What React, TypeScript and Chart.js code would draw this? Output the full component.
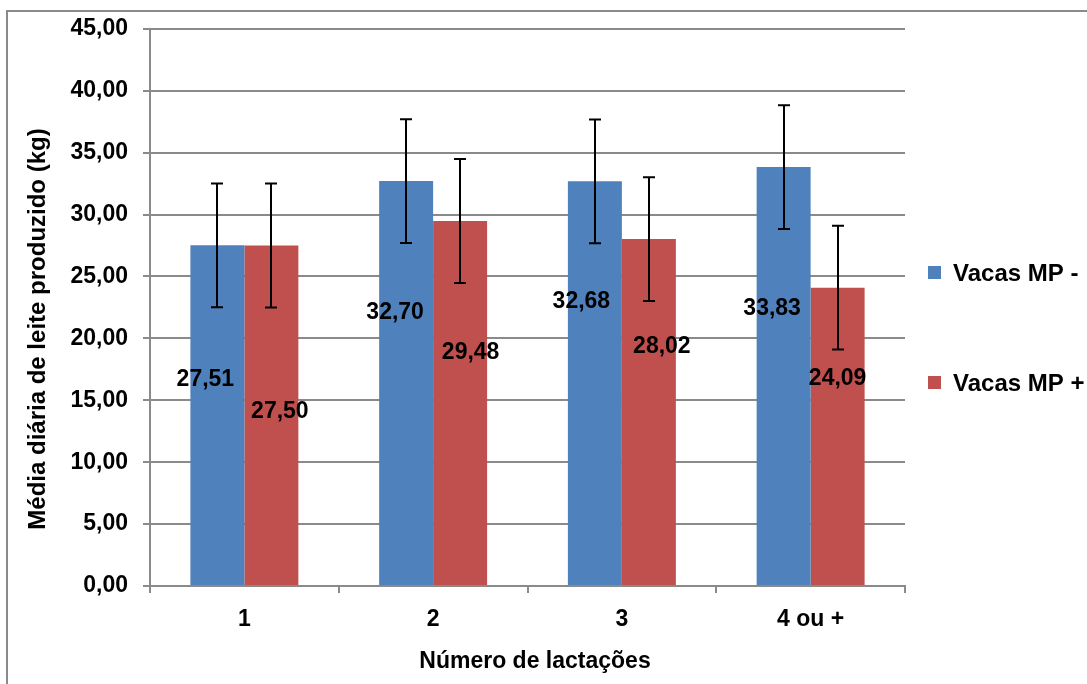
import React, { useEffect, useRef } from "react";
import { Chart, registerables } from "chart.js";

Chart.register(...registerables);

// ---- data ----
const categories: string[] = ["1", "2", "3", "4 ou +"];
const seriesNames: string[] = ["Vacas MP -", "Vacas MP +"];
const mpMinus: number[] = [27.51, 32.7, 32.68, 33.83];
const mpPlus: number[] = [27.5, 29.48, 28.02, 24.09];
const mpMinusError: number[] = [5, 5, 5, 5];
const mpPlusError: number[] = [5, 5, 5, 5];
const yTicksMin = 0;
const yTicksMax = 45;
const yTicksStep = 5;
const yTitle = "Média diária de leite produzido (kg)";
const xTitle = "Número de lactações";

// ---- layout of the (hand-placed) data labels: anchor in value units, x shift in px ----
const labelAnchorMinus: number[] = [16.82, 22.22, 23.1, 22.5];
const labelAnchorPlus: number[] = [14.21, 18.96, 19.48, 16.9];
const labelShiftMinus: number[] = [-12, -11, -13.5, -11.5];
const labelShiftPlus: number[] = [8.5, 10.5, 13, 0];

const FONT = '"Liberation Sans", Arial, sans-serif';
const GRID = "#8a8a8a";
const BLUE = "#4F81BD";
const RED = "#C0504D";

const fmt = (v: number) => v.toFixed(2).replace(".", ",");

const overlayPlugin = {
  id: "overlay",
  beforeDraw(chart: any) {
    const ctx = chart.ctx;
    ctx.save();
    ctx.strokeStyle = GRID;
    ctx.lineWidth = 2;
    ctx.beginPath();
    ctx.moveTo(7, 700);
    ctx.lineTo(7, 11);
    ctx.lineTo(1100, 11);
    ctx.stroke();
    ctx.restore();
  },
  afterDatasetsDraw(chart: any) {
    const ctx = chart.ctx;
    const y = chart.scales.y;
    const errs = [mpMinusError, mpPlusError];
    const anchors = [labelAnchorMinus, labelAnchorPlus];
    const shifts = [labelShiftMinus, labelShiftPlus];
    ctx.save();
    // error bars
    ctx.strokeStyle = "#000";
    ctx.lineWidth = 2;
    chart.data.datasets.forEach((ds: any, di: number) => {
      const meta = chart.getDatasetMeta(di);
      meta.data.forEach((el: any, i: number) => {
        const v = ds.data[i];
        const e = errs[di][i];
        const x = Math.round(el.x);
        const yt = y.getPixelForValue(v + e);
        const yb = y.getPixelForValue(v - e);
        ctx.beginPath();
        ctx.moveTo(x, yt);
        ctx.lineTo(x, yb);
        ctx.moveTo(x - 6, yt);
        ctx.lineTo(x + 6, yt);
        ctx.moveTo(x - 6, yb);
        ctx.lineTo(x + 6, yb);
        ctx.stroke();
      });
    });
    // data labels
    ctx.fillStyle = "#000";
    ctx.font = `bold 23px ${FONT}`;
    ctx.textAlign = "center";
    ctx.textBaseline = "alphabetic";
    chart.data.datasets.forEach((ds: any, di: number) => {
      const meta = chart.getDatasetMeta(di);
      meta.data.forEach((el: any, i: number) => {
        const cx = el.x + shifts[di][i];
        const cy = y.getPixelForValue(anchors[di][i]);
        ctx.fillText(fmt(ds.data[i]), cx, cy + 8);
      });
    });
    ctx.restore();
  },
  afterDraw(chart: any) {
    const ctx = chart.ctx;
    ctx.save();
    ctx.fillStyle = "#000";
    // y title
    ctx.font = `bold 24px ${FONT}`;
    ctx.translate(45, 329);
    ctx.rotate(-Math.PI / 2);
    ctx.textAlign = "center";
    ctx.textBaseline = "alphabetic";
    ctx.fillText(yTitle, 0, 0);
    ctx.restore();
    ctx.save();
    ctx.fillStyle = "#000";
    ctx.font = `bold 23px ${FONT}`;
    ctx.textAlign = "center";
    ctx.textBaseline = "alphabetic";
    ctx.fillText(xTitle, 535, 668);
    // legend
    const centers = [272.5, 382.5];
    ctx.font = `bold 24px ${FONT}`;
    ctx.textAlign = "left";
    chart.data.datasets.forEach((ds: any, di: number) => {
      const cy = centers[di];
      ctx.fillStyle = ds.backgroundColor;
      ctx.fillRect(928, cy - 6.5, 13, 13);
      ctx.fillStyle = "#000";
      ctx.fillText(ds.label, 953, cy + 8.5);
    });
    ctx.restore();
  },
};

export default function App() {
  const ref = useRef<HTMLCanvasElement | null>(null);
  useEffect(() => {
    if (!ref.current) return;
    const chart = new Chart(ref.current, {
      type: "bar",
      data: {
        labels: categories,
        datasets: [
          { label: seriesNames[0], data: mpMinus, backgroundColor: BLUE },
          { label: seriesNames[1], data: mpPlus, backgroundColor: RED },
        ],
      },
      options: {
        responsive: false,
        animation: false,
        devicePixelRatio: 1,
        layout: { padding: { left: 0, top: 27, right: 182, bottom: 0 } },
        datasets: { bar: { categoryPercentage: 0.572, barPercentage: 1.0 } },
        plugins: { legend: { display: false }, tooltip: { enabled: false } },
        scales: {
          x: {
            grid: {
              display: true,
              drawOnChartArea: false,
              drawTicks: true,
              tickLength: 7,
              offset: true,
              color: GRID,
              lineWidth: 2,
            },
            border: { display: true, color: GRID, width: 2 },
            ticks: { color: "#000", font: { family: FONT, size: 23, weight: "bold" }, padding: 13 },
            afterFit: (s: any) => {
              s.height = 98;
            },
          },
          y: {
            min: yTicksMin,
            max: yTicksMax,
            grid: { color: GRID, lineWidth: 2, tickLength: 7, drawTicks: true },
            border: { display: true, color: GRID, width: 2 },
            ticks: {
              stepSize: yTicksStep,
              color: "#000",
              padding: 15,
              font: { family: FONT, size: 23, weight: "bold" },
              callback: (v: any) => fmt(Number(v)),
            },
            afterFit: (s: any) => {
              s.width = 150;
            },
          },
        },
      } as any,
      plugins: [overlayPlugin],
    });
    return () => chart.destroy();
  }, []);
  return (
    <div style={{ position: "fixed", left: 0, top: 0, width: 1087, height: 684, background: "#fff" }}>
      <canvas ref={ref} width={1087} height={684} style={{ display: "block" }} />
    </div>
  );
}
